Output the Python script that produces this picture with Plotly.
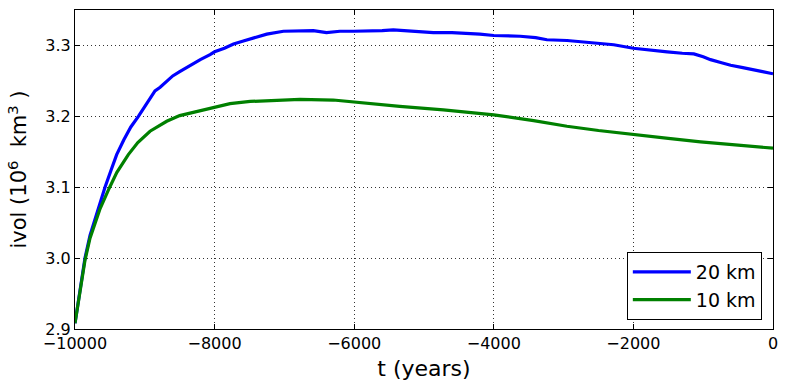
import plotly.graph_objects as go

t_20 = [-10000, -9930, -9857, -9785, -9713, -9640, -9570, -9480, -9403, -9300, -9200, -9092, -9000,
        -8920, -8854, -8780, -8686, -8600, -8500, -8400, -8300, -8205, -8065, -8000, -7860, -7729,
        -7600, -7443, -7252, -7014, -6780, -6586, -6397, -6205, -6014, -5824, -5600, -5440, -5250,
        -5057, -4866, -4600, -4387, -4200, -4000, -3800, -3622, -3400, -3239, -2950, -2713, -2500,
        -2282, -2000, -1750, -1516, -1300, -1134, -1000, -895, -750, -607, -450, -320, -150, 0]
v_20 = [2.908, 2.955, 3.000, 3.032, 3.055, 3.078, 3.100, 3.125, 3.146, 3.167, 3.185, 3.200, 3.214,
        3.226, 3.236, 3.241, 3.250, 3.257, 3.263, 3.269, 3.275, 3.280, 3.287, 3.291, 3.296, 3.302,
        3.306, 3.311, 3.316, 3.320, 3.320, 3.321, 3.318, 3.320, 3.320, 3.320, 3.321, 3.322, 3.321,
        3.320, 3.318, 3.318, 3.317, 3.316, 3.314, 3.314, 3.313, 3.311, 3.308, 3.307, 3.305, 3.303,
        3.301, 3.296, 3.294, 3.291, 3.289, 3.288, 3.284, 3.280, 3.276, 3.272, 3.269, 3.266, 3.263, 3.260]

t_10 = [-10000, -9930, -9857, -9785, -9713, -9640, -9508, -9400, -9236, -9100, -8925, -8800, -8686,
        -8500, -8256, -8018, -7779, -7490, -7100, -6776, -6300, -6000, -5348, -4722, -4000, -3430,
        -2952, -2500, -2000, -1500, -1038, -500, 0]
v_10 = [2.908, 2.953, 2.997, 3.028, 3.050, 3.070, 3.099, 3.121, 3.146, 3.163, 3.179, 3.187, 3.193,
        3.201, 3.207, 3.213, 3.218, 3.221, 3.223, 3.224, 3.223, 3.220, 3.214, 3.209, 3.202, 3.194,
        3.186, 3.180, 3.175, 3.169, 3.164, 3.159, 3.155]

x_ticks = [-10000, -8000, -6000, -4000, -2000, 0]
x_tick_labels = ["\u221210000", "\u22128000", "\u22126000", "\u22124000", "\u22122000", "0"]
y_ticks = [2.9, 3.0, 3.1, 3.2, 3.3]
y_tick_labels = ["2.9", "3.0", "3.1", "3.2", "3.3"]

fig = go.Figure()
fig.add_trace(go.Scatter(x=t_20, y=v_20, mode="lines", name="20 km",
                         line=dict(color="#0000ff", width=3.2)))
fig.add_trace(go.Scatter(x=t_10, y=v_10, mode="lines", name="10 km",
                         line=dict(color="#008000", width=3.2)))

font = "DejaVu Sans"
axis_common = dict(showline=True, linecolor="black", linewidth=1, mirror="ticks",
                   ticks="inside", ticklen=5, tickcolor="black", automargin=False,
                   showgrid=True, gridcolor="#333333", griddash="1px,3px", gridwidth=1,
                   zeroline=False, tickfont=dict(family=font, size=16, color="black"))

fig.update_layout(
    width=786, height=390,
    margin=dict(l=75, r=13, t=10, b=61),
    paper_bgcolor="white", plot_bgcolor="white",
    xaxis=dict(range=[-10000, 0], tickvals=x_ticks, ticktext=x_tick_labels,
               title=dict(text="t (years)", font=dict(family=font, size=22, color="black"), standoff=8),
               **axis_common),
    yaxis=dict(range=[2.9, 3.35], tickvals=y_ticks, ticktext=y_tick_labels,
               title=dict(text="ivol (10<sup>6</sup>  km<sup>3</sup> )",
                          font=dict(family=font, size=21, color="black"), standoff=12),
               **axis_common),
    legend=dict(x=0.984, y=0.028, xanchor="right", yanchor="bottom",
                bgcolor="white", bordercolor="black", borderwidth=1,
                font=dict(family=font, size=19, color="black"),
                itemwidth=58),
    showlegend=True,
)

fig.write_html("out.html", post_script="document.body.style.margin='0';",
               config={"displayModeBar": False})
